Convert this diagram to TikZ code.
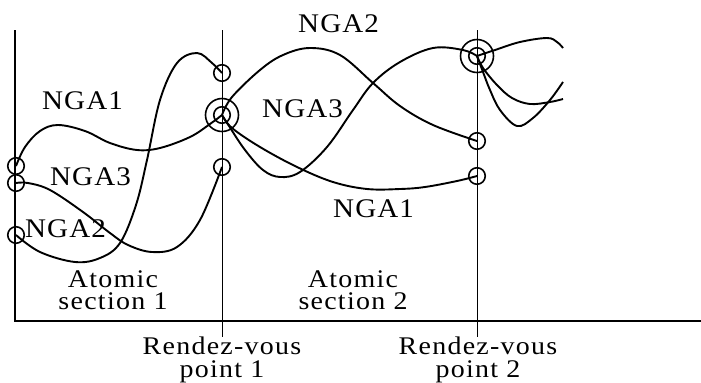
\documentclass[tikz,border=0pt]{standalone}
\usepackage{fontspec}
\setmainfont{Liberation Serif}[FakeStretch=1.1, LetterSpace=5]
\newfontfamily\ngafont{Liberation Serif}[FakeStretch=1.08, LetterSpace=4]
\begin{document}
\begin{tikzpicture}[x=1bp,y=-1bp,
  axis/.style={line width=1.9bp},
  rvline/.style={line width=0.9bp},
  track/.style={line width=1.9bp, smooth, tension=0.6},
  pt/.style={circle, draw, line width=1.6bp, minimum size=16.5bp, inner sep=0},
  bigpt/.style={circle, draw, line width=1.6bp, minimum size=33bp, inner sep=0},
  nga/.style={inner sep=0, anchor=base west, font=\ngafont\fontsize{27}{27}\selectfont},
  lab/.style={inner sep=0, anchor=base, align=center}]
\useasboundingbox (0,0) rectangle (701,382);
% axes
\coordinate (ytop) at (15,30);
\coordinate (orig) at (15,321);
\coordinate (xend) at (701,321);
\draw[axis] (ytop) -- (orig) -- (xend);
% rendez-vous lines
\coordinate (r1t) at (222,30);
\coordinate (r1b) at (222,337);
\coordinate (r2t) at (477,30);
\coordinate (r2b) at (477,337);
\draw[rvline] (r1t) -- (r1b);
\draw[rvline] (r2t) -- (r2b);
% points
\node[pt] (l1) at (16,166) {};
\node[pt] (l3) at (16,183) {};
\node[pt] (l2) at (16,235) {};
\node[pt] (a2) at (222,73) {};
\node[pt] (a3) at (222,167) {};
\node[bigpt] (b1) at (222,115) {};
\node[pt] (b1i) at (222,115) {};
\node[bigpt] (b2) at (477,56) {};
\node[pt] (b2i) at (477,56) {};
\node[pt] (c2) at (477,141) {};
\node[pt] (c1) at (477,176) {};
% tracks, atomic section 1
\draw[track] plot coordinates {(l1.center) (25,147) (40,131) (58,125) (85,131) (110,143) (137,150) (160,148) (190,137) (210,124) (b1.center)};
\draw[track] plot coordinates {(l3.center) (28,183) (50,190) (83,212) (110,233) (128,245) (152,252) (177,247) (200,220) (a3.center)};
\draw[track] plot coordinates {(l2.center) (40,252) (75,262) (100,258) (120,243) (136,205) (147,160) (160,100) (177,63) (197,53) (212,63) (a2.center)};
% tracks, atomic section 2
\draw[track] plot coordinates {(b1.center) (232,97) (260,70) (283,55) (310,48) (340,55) (373,83) (400,106) (433,125) (c2.center)};
\draw[track] plot coordinates {(b1.center) (229,126) (245,150) (263,170) (280,177) (300,172) (327,147) (353,110) (373,83) (400,62) (433,48) (463,50) (b2.center)};
\draw[track] plot coordinates {(b1.center) (232,128) (260,147) (297,167) (333,182) (367,189) (400,189) (425,187) (457,181) (c1.center)};
% tracks after rendez-vous point 2
\draw[track] plot coordinates {(b2.center) (495,50) (520,42) (547,38) (557,42) (563,48)};
\draw[track] plot coordinates {(b2.center) (483,72) (490,90) (500,110) (517,126) (533,118) (550,100) (563,82)};
\draw[track] plot coordinates {(b2.center) (483,68) (497,85) (512,98) (530,104) (550,102) (563,99)};
% labels
\node[nga] (n1a) at (42,109) {NGA1};
\node[nga] (n3a) at (50,185) {NGA3};
\node[nga] (n2a) at (25,237) {NGA2};
\node[nga] (n2b) at (298,32) {NGA2};
\node[nga] (n3b) at (262,117) {NGA3};
\node[nga] (n1b) at (333,217) {NGA1};
\node[lab, font=\fontsize{25.5}{22}\selectfont] (as1) at (113,309) {Atomic\\section 1};
\node[lab, font=\fontsize{25.5}{22}\selectfont] (as2) at (353,309) {Atomic\\section 2};
\node[lab, font=\fontsize{25.5}{23}\selectfont] (rv1) at (222,377) {Rendez-vous\\point 1};
\node[lab, font=\fontsize{25.5}{23}\selectfont] (rv2) at (478,377) {Rendez-vous\\point 2};
\end{tikzpicture}
\end{document}
